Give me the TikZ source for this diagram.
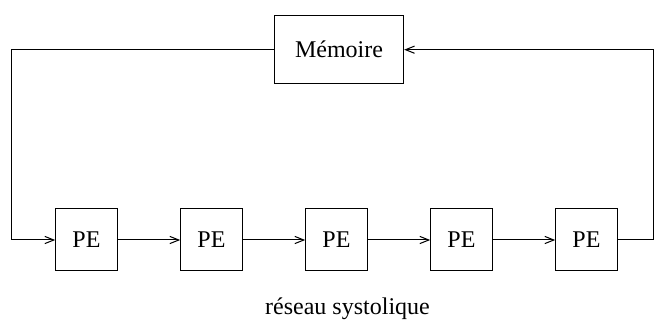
\documentclass[tikz,border=0pt,12pt]{standalone}
\usepackage{fontspec}
\setmainfont{Liberation Serif}
\usepackage{tikz}
\usetikzlibrary{arrows.meta, positioning}
\tikzstyle{pe} = [rectangle, draw, line width=0.5pt, text centered, inner sep=0pt, minimum height=30.7pt, minimum width=30.85pt]
\tikzstyle{mem} = [rectangle, draw, line width=0.5pt, text centered, inner sep=0pt, minimum height=34.3pt, minimum width=64.7pt]
\tikzstyle{arrow} = [line width=0.5pt,-{Straight Barb[length=4.5pt,width=3.6pt]}]
\tikzstyle{link} = [line width=0.5pt]

\begin{document}
\begin{tikzpicture}[node distance=31.15pt]
    \useasboundingbox (0,0) rectangle (327pt,160.5pt);

    % Memory
    \node (mem) [mem] at (169.5pt,135.65pt) {Mémoire};

    % Systolic array
    \node (pe1) [pe] at (43.25pt,40.8pt) {PE};
    \foreach \i [remember=\i as \j (initially 1)] in {2,...,5}
        \node (pe\i) [pe, right=of pe\j] {PE};

    \node (label) [anchor=base] at (173.75pt,3pt) {réseau systolique};

    % Loop corners
    \coordinate (lft) at (5.65pt,40.5pt);
    \coordinate (rgt) at (326.6pt,40.5pt);

    % ==== Arrows
    \draw [link] (mem.west) -| (lft);
    \draw [arrow] (lft) -- (lft -| pe1.west);
    \foreach \i [remember=\i as \j (initially 1)] in {2,...,5}
        \draw [arrow] (pe\j.east |- lft) -- (pe\i.west |- lft);
    \draw [link] (pe5.east |- rgt) -- (rgt);
    \draw [arrow] (rgt) |- (mem.east);

\end{tikzpicture}
\end{document}
